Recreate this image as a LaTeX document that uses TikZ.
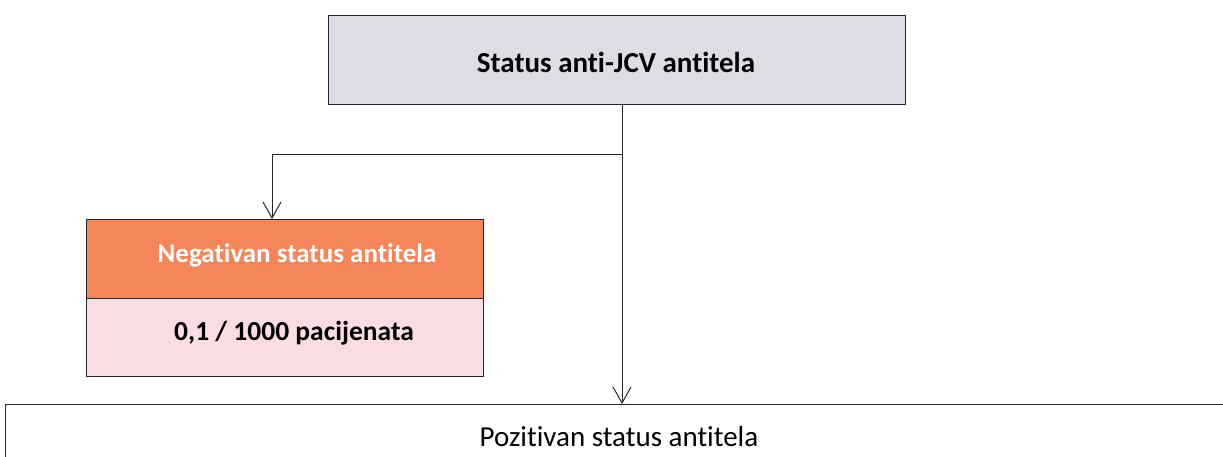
\documentclass[tikz,border=0pt]{standalone}
\usepackage{fontspec}
\setmainfont{Carlito}[Ligatures=NoCommon]
\usetikzlibrary{arrows.meta}
\definecolor{topfill}{HTML}{E0DCE6}
\definecolor{negfill}{HTML}{F4865A}
\definecolor{pinkfill}{HTML}{FADDE3}
\tikzset{
  box/.style={draw=black!85, line width=1pt, inner sep=0pt, anchor=north west},
  arr/.style={draw=black!85, line width=1pt, -{Straight Barb[length=16pt,width=18pt,line width=1pt]}},
  lbl/.style={font=\fontsize{29}{32}\selectfont\bfseries}
}
\begin{document}
\begin{tikzpicture}[x=1pt,y=-1pt]
\useasboundingbox (0,0) rectangle (1223,456);
\clip (0,0) rectangle (1223,456);
\node[box, fill=topfill, minimum width=577pt, minimum height=89pt] (top) at (328,15) {};
\node[lbl] (toptext) at (616,62) {Status anti-JCV antitela};
\node[box, fill=negfill, draw=none, minimum width=396pt, minimum height=79pt] (neg) at (86,219) {};
\node[box, fill=pinkfill, draw=none, minimum width=396pt, minimum height=77pt] (negb) at (86,298) {};
\draw[black!85, line width=1pt] (neg.north west) rectangle (negb.south east);
\draw[black!85, line width=1pt] (negb.north west) -- (negb.north east);
\node[lbl, font=\fontsize{27}{32}\selectfont\bfseries, text=white] (negtext) at (297,255) {Negativan status antitela};
\node[lbl, font=\fontsize{27.5}{32}\selectfont\bfseries] (negbtext) at (294,333) {0,1 / 1000 pacijenata};
\node[box, fill=white, minimum width=1230pt, minimum height=80pt] (pos) at (5,404) {};
\node[font=\fontsize{29}{32}\selectfont] (postext) at (619,437) {Pozitivan status antitela};
\coordinate (split) at (622,154);
\draw[arr] (top.south -| split) -- (pos.north -| split);
\draw[arr] (split) -| (neg.north -| 272,0);
\end{tikzpicture}
\end{document}
